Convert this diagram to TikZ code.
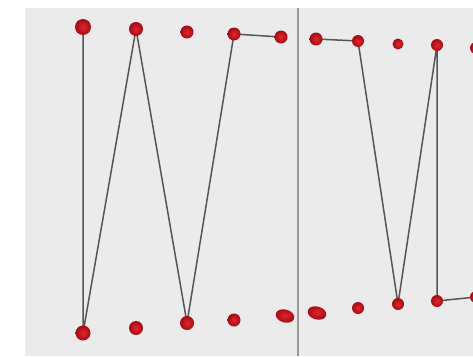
\documentclass[tikz,border=0pt]{standalone}
\usetikzlibrary{shapes.geometric}
\definecolor{dotin}{RGB}{222,40,45}
\definecolor{dotout}{RGB}{165,10,20}
\definecolor{wirec}{RGB}{85,85,85}
\definecolor{divc}{RGB}{150,150,150}
\definecolor{panel}{RGB}{235,235,235}
\begin{document}
\begin{tikzpicture}[x=1pt,y=-1pt,
  dot/.style={circle,inner sep=0pt,minimum size=#1,shade,inner color=dotin,outer color=dotout},
  dot/.default=12pt,
  blob/.style={ellipse,inner sep=0pt,minimum width=19pt,minimum height=13pt,shade,inner color=dotin,outer color=dotout},
  wire/.style={draw=wirec,line width=1.5pt},
  divider/.style={draw=divc,line width=1.1pt}]
\useasboundingbox (0,0) rectangle (473,356);
\fill[white] (0,0) rectangle (473,356);
\fill[panel] (25,8) rectangle (473,356);
% positions
\coordinate (t1) at (83,27);
\coordinate (t2) at (136,29);
\coordinate (t3) at (187,32);
\coordinate (t4) at (234,34);
\coordinate (t5) at (281,37);
\coordinate (t6) at (316,39);
\coordinate (t7) at (358,41);
\coordinate (t8) at (398,44);
\coordinate (t9) at (437,45);
\coordinate (t10) at (476,48);
\coordinate (b1) at (83,333);
\coordinate (b2) at (136,328);
\coordinate (b3) at (187,323);
\coordinate (b4) at (234,320);
\coordinate (b5) at (285,316);
\coordinate (b6) at (317,313);
\coordinate (b7) at (358,308);
\coordinate (b8) at (398,304);
\coordinate (b9) at (437,301);
\coordinate (b10) at (476,297);
\coordinate (dtop) at (298,8);
\coordinate (dbot) at (298,356);
% divider
\draw[divider] (dtop) -- (dbot);
% wires
\draw[wire] (t1) -- (b1) -- (t2) -- (b3) -- (t4) -- (t5);
\draw[wire] (t6) -- (t7) -- (b8) -- (t9) -- (b9) -- (b10);
% dots
\node[dot=16pt] (n1) at (t1) {};
\node[dot=14pt] (n2) at (t2) {};
\node[dot=13pt] (n3) at (t3) {};
\node[dot=13pt] (n4) at (t4) {};
\node[dot=13pt] (n5) at (t5) {};
\node[dot=13pt] (n6) at (t6) {};
\node[dot=12pt] (n7) at (t7) {};
\node[dot=11pt] (n8) at (t8) {};
\node[dot=12pt] (n9) at (t9) {};
\node[dot=12pt] (n10) at (t10) {};
\node[dot=15pt] (m1) at (b1) {};
\node[dot=14pt] (m2) at (b2) {};
\node[dot=14pt] (m3) at (b3) {};
\node[dot=13pt] (m4) at (b4) {};
\node[blob,rotate=-15] (m5) at (b5) {};
\node[blob,rotate=-15] (m6) at (b6) {};
\node[dot=12pt] (m7) at (b7) {};
\node[dot=12pt] (m8) at (b8) {};
\node[dot=12pt] (m9) at (b9) {};
\node[dot=12pt] (m10) at (b10) {};
\end{tikzpicture}
\end{document}
